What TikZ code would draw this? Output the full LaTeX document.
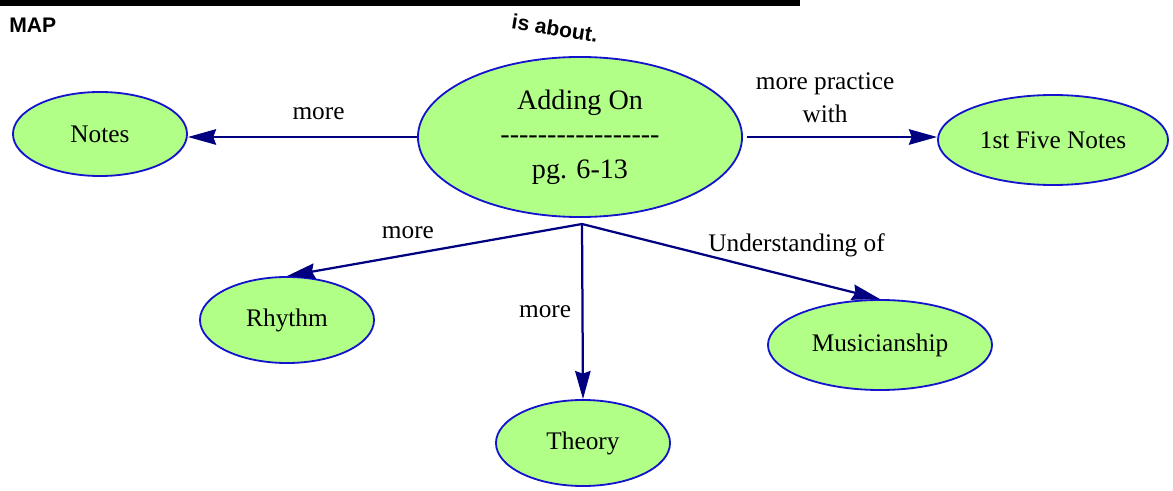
\documentclass[tikz,border=0pt]{standalone}
\usepackage{fontspec}
\setmainfont{Liberation Serif}
\newfontfamily\mapsans{Liberation Sans}
\usetikzlibrary{shapes.geometric,arrows.meta}
\definecolor{conceptgreen}{RGB}{178,255,136}
\definecolor{conceptblue}{RGB}{20,20,205}
\definecolor{linknavy}{RGB}{0,0,128}
\newcommand{\dashrow}{\foreach \d in {1,...,17}{\mbox{-}}}

\begin{document}
\begin{tikzpicture}[x=0.025cm, y=-0.025cm,
	concept/.style={draw=conceptblue, line width=1.3pt, ellipse, fill=conceptgreen, inner sep=0pt, font=\fontsize{18}{22}\selectfont},
	link/.style={draw=linknavy, line width=1.6pt, -{Stealth[length=20pt, width=11pt, inset=2pt]}},
	linklabel/.style={font=\fontsize{18}{23.5}\selectfont, align=center},
	banner/.style={font=\mapsans\bfseries\fontsize{15}{18}\selectfont, inner sep=0pt}]
				\useasboundingbox (0, 0) rectangle (1173, 491);
				\fill (0, 0) rectangle (800, 6);
				\node[banner, anchor=west] (maptitle)at(9, 25) {MAP};
				\node[banner, rotate=-9] (isabout)at(555, 28) {is about.};
				\node[concept, minimum width=8.1cm, minimum height=4cm, font=\fontsize{20}{24.5}\selectfont, align=center] (adding)at(580, 137) {Adding On\\\dashrow\\pg. 6-13};
				\node[concept, minimum width=4.35cm, minimum height=2.1cm] (notes)at(100, 134) {Notes};
				\node[concept, minimum width=5.75cm, minimum height=2.25cm] (five)at(1053, 140) {1st Five Notes};
				\node[concept, minimum width=4.35cm, minimum height=2.15cm] (rhythm)at(287, 320) {Rhythm};
				\node[concept, minimum width=4.35cm, minimum height=2.15cm] (theory)at(583, 443) {Theory};
				\node[concept, minimum width=5.6cm, minimum height=2.25cm] (music)at(880, 345) {Musicianship};
				\coordinate (hub)at(582, 224);
				\draw[link] (adding.west) -- (adding.west -| notes.east) node[linklabel, pos=0.43, above=8pt] (lmore) {more};
				\draw[link] ([xshift=3pt]adding.east) -- (adding.east -| five.west) node[linklabel, pos=0.41, above=6pt] (lpractice) {more practice\\with};
				\draw[link] (hub) -- (rhythm.north) node[linklabel, pos=0.59, above=7pt] (lrhythm) {more};
				\draw[link] (hub) -- (theory.north) node[linklabel, pos=0.5, left=4pt] (ltheory) {more};
				\draw[link] (hub) -- (music.north) node[linklabel, pos=0.72, above=11pt] (lmusic) {Understanding of};
			\end{tikzpicture}
\end{document}
